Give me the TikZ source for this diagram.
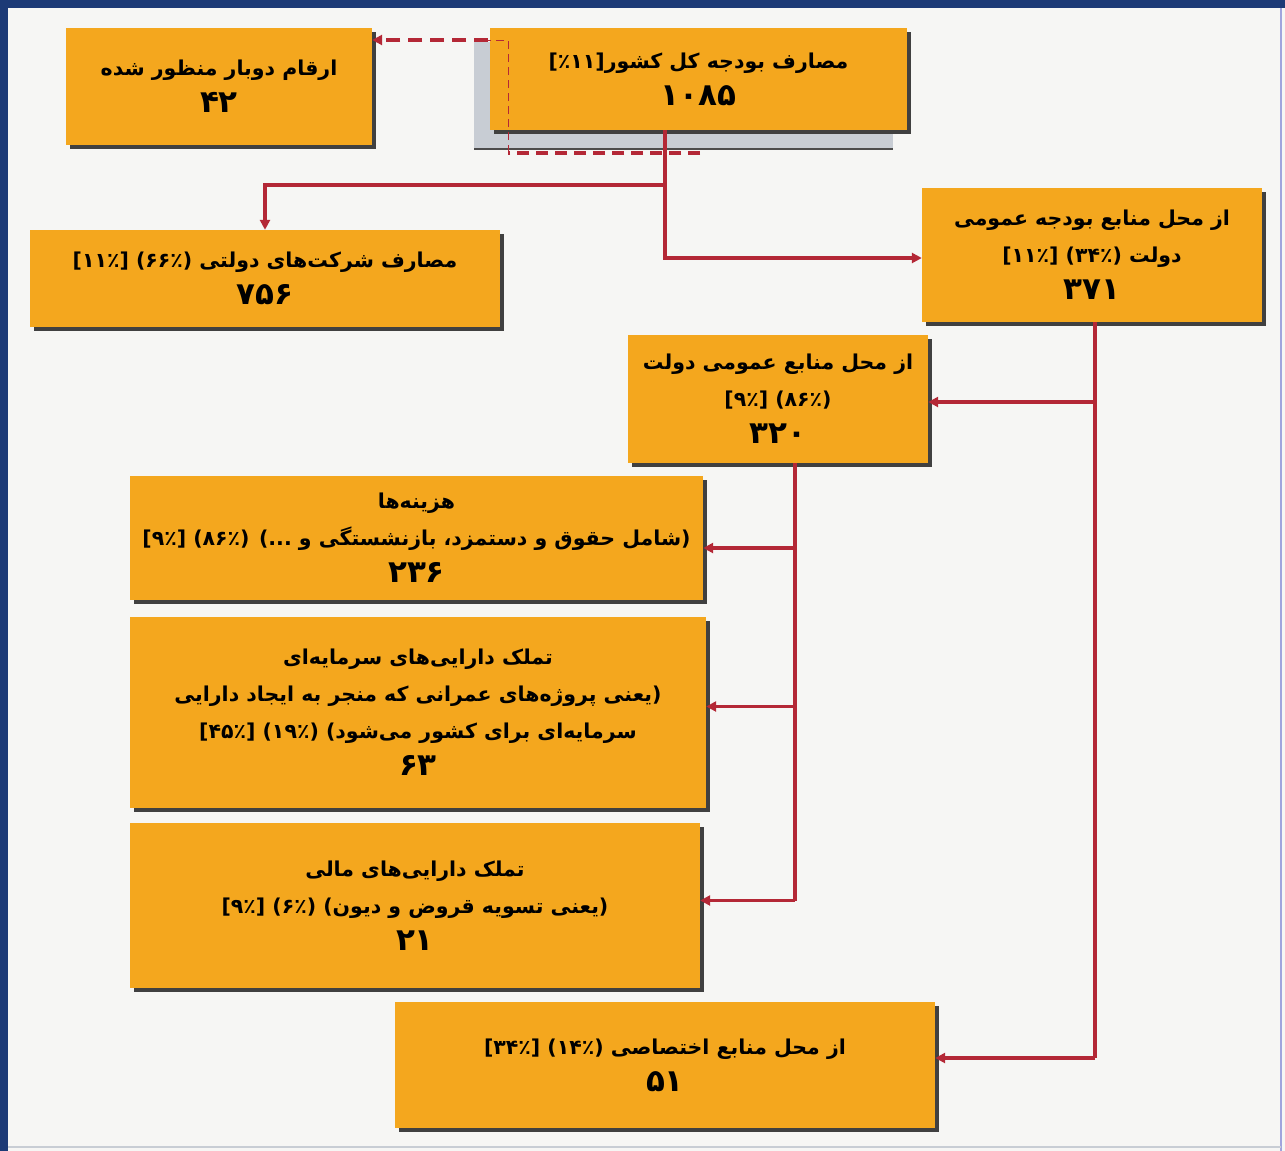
\documentclass[tikz,border=0pt]{standalone}
\usepackage{fontspec}
\newfontfamily\arabicfont[Script=Arabic]{DejaVu Sans}
\TeXXeTstate=1
\usetikzlibrary{arrows.meta,shadows}
\newcommand{\fa}[1]{\beginR #1\endR}
\newcommand{\bignum}[1]{{\fontsize{31}{40}\selectfont\beginR #1\endR}}
\definecolor{boxorange}{RGB}{244,167,30}
\definecolor{linered}{RGB}{180,40,54}
\definecolor{frameblue}{RGB}{28,58,118}
\definecolor{bgpaper}{RGB}{246,246,244}
\definecolor{shadegray}{RGB}{200,205,212}
\tikzset{
  box/.style={fill=boxorange, align=center, inner sep=0pt,
    font=\arabicfont\bfseries\fontsize{20.5}{37}\selectfont,
    drop shadow={shadow xshift=3.5pt,shadow yshift=-3.5pt,fill=black!75,opacity=1}},
  link/.style={draw=linered, line width=3.2pt, -{Triangle[length=10pt,width=10pt]}},
  trunk/.style={draw=linered, line width=3.2pt},
}
\begin{document}
\begin{tikzpicture}[x=1pt,y=-1pt]
\useasboundingbox (0,0) rectangle (1285,1151);
% background and frame
\fill[bgpaper] (0,0) rectangle (1285,1151);
\fill[frameblue] (0,0) rectangle (1285,8);
\fill[frameblue] (0,0) rectangle (8,1151);
\draw[shadegray!80!blue, line width=2pt] (1281,8) -- (1281,1151);
\draw[shadegray, line width=1.5pt] (8,1147) -- (1281,1147);

% grey plate behind the top box
\fill[shadegray] (474,42) rectangle (893,149);
\draw[black!70, line width=2pt] (474,149) -- (893,149);

% boxes
\node[box, minimum width=306pt, minimum height=117pt] (A) at (219,86.5)
  {\fa{ارقام دوبار منظور شده}\\ \bignum{۴۲}};
\node[box, minimum width=417pt, minimum height=102pt] (B) at (698.5,79)
  {\fa{مصارف بودجه کل کشور[۱۱٪]}\\ \bignum{۱۰۸۵}};
\node[box, minimum width=470pt, minimum height=97pt] (C) at (265,278.5)
  {\fa{مصارف شرکت‌های دولتی (۶۶٪) [۱۱٪]}\\ \bignum{۷۵۶}};
\node[box, minimum width=340pt, minimum height=134pt] (D) at (1092,255)
  {\fa{از محل منابع بودجه عمومی}\\ \fa{دولت (۳۴٪) [۱۱٪]}\\ \bignum{۳۷۱}};
\node[box, minimum width=300pt, minimum height=128pt] (E) at (778,399)
  {\fa{از محل منابع عمومی دولت}\\ \fa{(۸۶٪) [۹٪]}\\ \bignum{۳۲۰}};
\node[box, minimum width=573pt, minimum height=124pt] (F) at (416.5,538)
  {\fa{هزینه‌ها}\\ \fa{(شامل حقوق و دستمزد، بازنشستگی و ...) (۸۶٪) [۹٪]}\\ \bignum{۲۳۶}};
\node[box, minimum width=576pt, minimum height=191pt] (G) at (418,712.5)
  {\fa{تملک دارایی‌های سرمایه‌ای}\\ \fa{(یعنی پروژه‌های عمرانی که منجر به ایجاد دارایی}\\ \fa{سرمایه‌ای برای کشور می‌شود) (۱۹٪) [۴۵٪]}\\ \bignum{۶۳}};
\node[box, minimum width=570pt, minimum height=165pt] (H) at (415,905.5)
  {\fa{تملک دارایی‌های مالی}\\ \fa{(یعنی تسویه قروض و دیون) (۶٪) [۹٪]}\\ \bignum{۲۱}};
\node[box, minimum width=540pt, minimum height=126pt] (I) at (665,1065)
  {\fa{از محل منابع اختصاصی (۱۴٪) [۳۴٪]}\\ \bignum{۵۱}};

% dashed link from the top box to the double-counted box
\coordinate (dA) at (700,153);
\coordinate (dB) at (508,153);
\coordinate (dC) at (508,40);
\coordinate (dD) at (488,40);
\draw[linered, line width=4pt, dash pattern=on 12pt off 7pt] (dA) -- (dB);
\draw[linered, line width=1pt, dash pattern=on 8pt off 5pt] (dB) -- (dC) -- (dD);
\draw[linered, line width=4pt, dash pattern=on 14pt off 8pt, -{Triangle[length=10pt,width=10pt]}]
  (dD) -- (A.east |- dD);

% solid connectors
\coordinate (bv) at (665,0);
\coordinate (split) at (665,185);
\draw[trunk] (B.south -| bv) -- (split);
\draw[link] (split) -| (C.north);
\draw[link] (split) |- ([yshift=-3pt]D.west);

\coordinate (dv) at (1095,0);
\draw[trunk] (D.south -| dv) -- ([yshift=7pt]I.east -| dv);
\draw[link] ([yshift=-3pt]E.east -| dv) -- ([yshift=-3pt]E.east);
\draw[link] ([yshift=7pt]I.east -| dv) -- ([yshift=7pt]I.east);

\coordinate (ev) at (795,0);
\draw[trunk] (E.south -| ev) -- ([yshift=5pt]H.east -| ev);
\draw[link] ([yshift=-10pt]F.east -| ev) -- ([yshift=-10pt]F.east);
\draw[link] ([yshift=6pt]G.east -| ev) -- ([yshift=6pt]G.east);
\draw[link] ([yshift=5pt]H.east -| ev) -- ([yshift=5pt]H.east);
\end{tikzpicture}
\end{document}
